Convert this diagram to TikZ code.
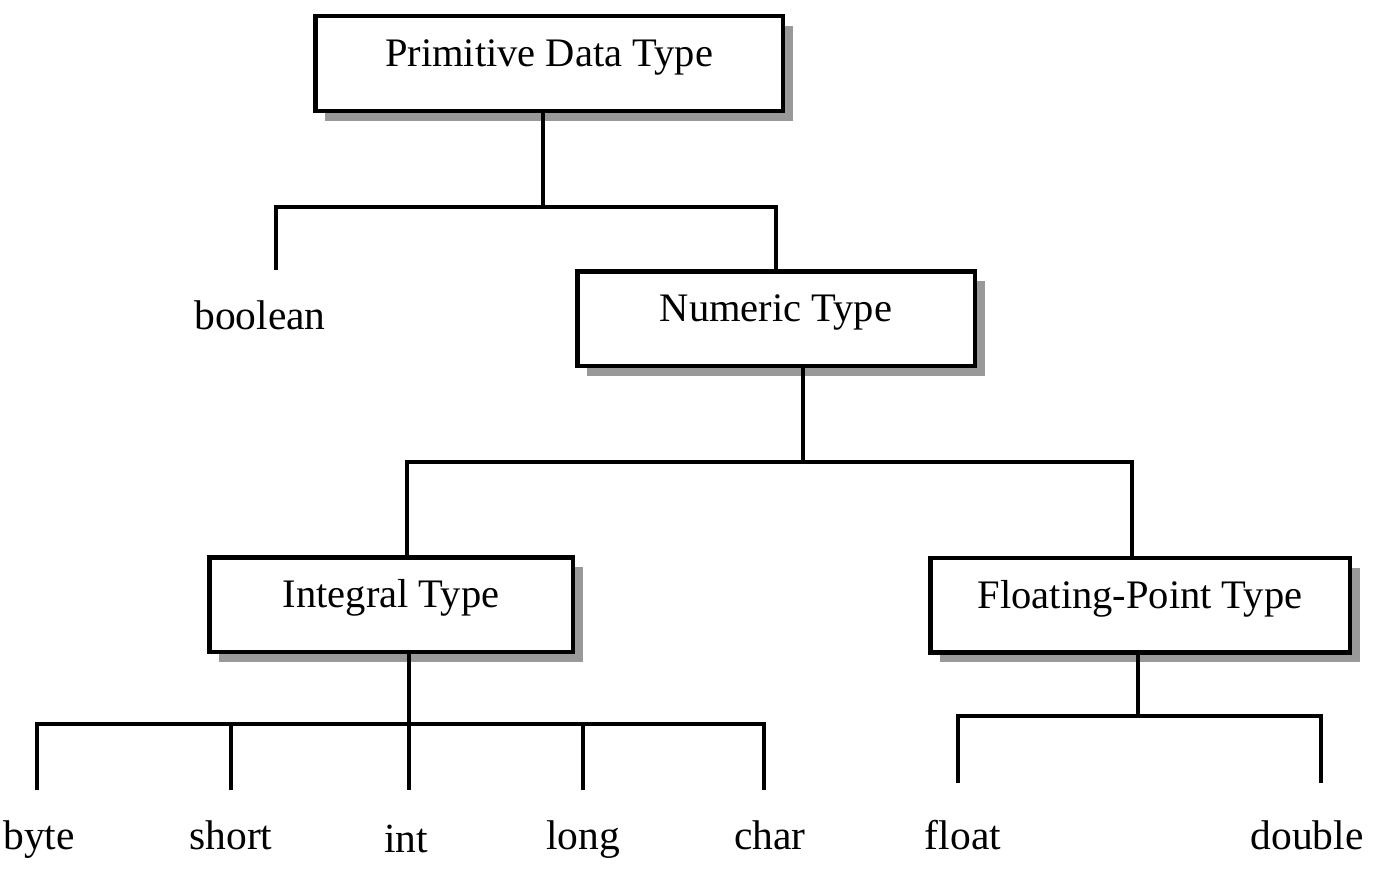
\documentclass[tikz,border=0pt]{standalone}
\usepackage{fontspec}
\setmainfont{Liberation Serif}
\usetikzlibrary{shadows}
\definecolor{shadowgray}{HTML}{999999}
\begin{document}
\begin{tikzpicture}[x=1pt,y=-1pt,
  typebox/.style={draw=black, line width=4.5pt, fill=white, rectangle,
    minimum height=94.5pt, inner sep=0pt,
    text height=22pt, text depth=16pt,
    font=\fontsize{40.5}{44}\selectfont,
    drop shadow={shadow xshift=10pt, shadow yshift=-10pt, fill=shadowgray, opacity=1}},
  leaf/.style={anchor=base, inner sep=0pt, font=\fontsize{41.5}{46}\selectfont},
  conn/.style={draw=black, line width=3.2pt}]
\useasboundingbox (0,0) rectangle (1387,875);

% boxes
\node[typebox, minimum width=467.5pt] (prim) at (549,63.5) {Primitive Data Type};
\node[typebox, minimum width=397.5pt] (num) at (776,318.5) {Numeric Type};
\node[typebox, minimum width=363.5pt] (intg) at (391,604.5) {Integral Type};
\node[typebox, minimum width=419.5pt] (flt) at (1140,605) {Floating-Point Type};

% leaf labels
\node[leaf] (bool) at (260,329) {boolean};
\node[leaf] (byte) at (39,849) {byte};
\node[leaf] (short) at (231,849) {short};
\node[leaf] (int) at (406,852) {int};
\node[leaf] (long) at (583,849) {long};
\node[leaf] (char) at (770,849) {char};
\node[leaf] (float) at (963,849) {float};
\node[leaf] (double) at (1307,849) {double};

% junction coordinates
\coordinate (j1) at (543,207);
\coordinate (j1L) at (276,207);
\coordinate (boolEnd) at (276,270);
\coordinate (j2) at (803,462);
\coordinate (j2L) at (407,462);
\coordinate (j2R) at (1132,462);
\coordinate (j3) at (409,724);
\coordinate (j3L) at (37,724);
\coordinate (j3R) at (764,724);
\coordinate (j4) at (1138,716);
\coordinate (j4L) at (958,716);
\coordinate (j4R) at (1321,716);
\coordinate (eByte) at (37,790);
\coordinate (eShort) at (231,790);
\coordinate (eInt) at (409,790);
\coordinate (eLong) at (583,790);
\coordinate (eChar) at (764,790);
\coordinate (eFloat) at (958,783);
\coordinate (eDouble) at (1321,783);

% connectors
\draw[conn] (prim.south -| j1) -- (j1);
\draw[conn] (boolEnd) -- (j1L) -- (j1 -| num.north) -- (num.north);

\draw[conn] (num.south -| j2) -- (j2);
\draw[conn] (intg.north -| j2L) -- (j2L) -- (j2R) -- (flt.north -| j2R);

\draw[conn] (intg.south -| j3) -- (eInt);
\draw[conn] (eByte) -- (j3L) -- (j3R) -- (eChar);
\draw[conn] (eShort) -- (eShort |- j3);
\draw[conn] (eLong) -- (eLong |- j3);

\draw[conn] (flt.south -| j4) -- (j4);
\draw[conn] (eFloat) -- (j4L) -- (j4R) -- (eDouble);
\end{tikzpicture}
\end{document}
